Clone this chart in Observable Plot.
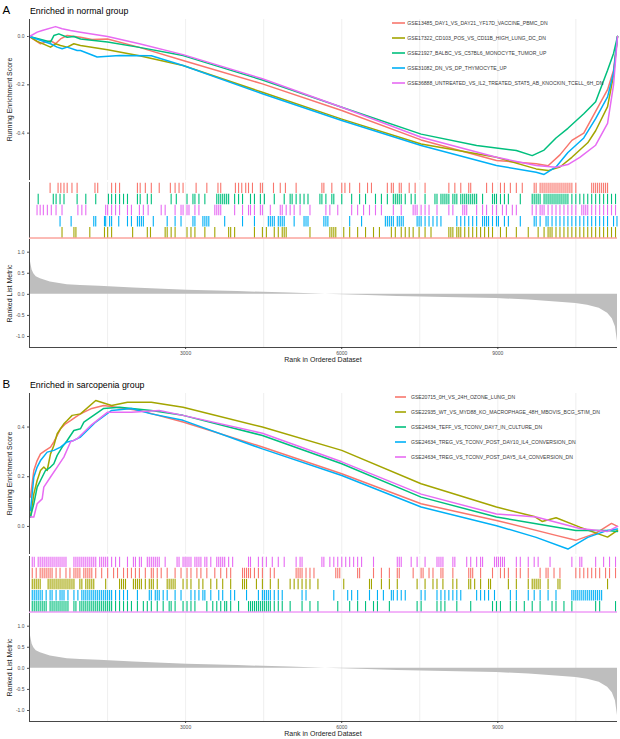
<!DOCTYPE html>
<html><head><meta charset="utf-8">
<script src="https://cdn.jsdelivr.net/npm/d3@7"></script>
<script src="https://cdn.jsdelivr.net/npm/@observablehq/plot@0.6"></script>
<style>
body{margin:0;background:#fff;font-family:"Liberation Sans",Arial,sans-serif;}
#root{position:relative;width:620px;height:739px;overflow:hidden;background:#fff;}
#root svg{position:absolute;left:0;}
</style></head><body><div id="root"></div>
<script>
// ---------- shared scales / ticks ----------
const xDomain = [0, 11300];
const gridTicks = [1500, 3000, 4500, 6000, 7500, 9000, 10500];
const xTicks = [3000, 6000, 9000];
const esTicksA = [-0.4, -0.2, 0.0];
const esTicksB = [0.0, 0.2, 0.4];
const metricTicks = [-1, -0.5, 0, 0.5, 1];
const colors = ["#F8766D", "#A3A500", "#00BF7D", "#00B0F6", "#E76BF3"];

// ---------- panel A ----------
const titleA = "Enriched in normal group";
const namesA = [
  "GSE13485_DAY1_VS_DAY21_YF17D_VACCINE_PBMC_DN",
  "GSE17322_CD103_POS_VS_CD11B_HIGH_LUNG_DC_DN",
  "GSE21927_BALBC_VS_C57BL6_MONOCYTE_TUMOR_UP",
  "GSE31082_DN_VS_DP_THYMOCYTE_UP",
  "GSE36888_UNTREATED_VS_IL2_TREATED_STAT5_AB_KNOCKIN_TCELL_6H_DN"
];
const rugOrderA = [0, 2, 4, 3, 1];
const esA0 = [[0,0],[211,-0.030],[404,-0.017],[500,-0.030],[596,-0.010],[724,0.004],[980,-0.003],[1200,-0.012],[1500,-0.010],[2112,-0.045],[2951,-0.099],[4476,-0.196],[6001,-0.306],[7526,-0.428],[8974,-0.513],[9737,-0.527],[9966,-0.535],[10194,-0.49],[10423,-0.43],[10652,-0.40],[10880,-0.31],[11109,-0.22],[11224,-0.14],[11300,0.0]];
const esA1 = [[0,0],[150,-0.02],[404,-0.044],[500,-0.030],[596,-0.037],[724,-0.044],[852,-0.030],[980,-0.037],[1500,-0.055],[2112,-0.08],[2951,-0.12],[4476,-0.231],[6001,-0.342],[7526,-0.445],[8974,-0.50],[9737,-0.548],[9966,-0.555],[10194,-0.54],[10423,-0.50],[10728,-0.44],[10880,-0.39],[11109,-0.29],[11224,-0.16],[11300,0.0]];
const esA2 = [[0,0],[404,-0.023],[468,0.004],[564,0.011],[724,-0.003],[852,0.0],[980,-0.010],[1500,-0.023],[2112,-0.045],[2951,-0.079],[4476,-0.18],[6001,-0.293],[7526,-0.404],[8593,-0.451],[9356,-0.472],[9661,-0.493],[9889,-0.47],[10118,-0.42],[10347,-0.38],[10652,-0.32],[10880,-0.27],[11109,-0.14],[11224,-0.07],[11300,0.0]];
const esA3 = [[0,0],[404,-0.030],[532,-0.044],[628,-0.051],[724,-0.044],[916,-0.058],[980,-0.058],[1300,-0.085],[1731,-0.079],[2341,-0.08],[2951,-0.12],[4476,-0.237],[6001,-0.348],[7526,-0.451],[8974,-0.534],[9737,-0.562],[9889,-0.571],[10118,-0.54],[10347,-0.48],[10652,-0.42],[10880,-0.34],[11109,-0.25],[11224,-0.15],[11300,0.0]];
const esA4 = [[0,0],[148,0.018],[244,0.025],[500,0.041],[628,0.032],[788,0.025],[980,0.018],[1500,0.0],[2112,-0.03],[2951,-0.075],[4476,-0.175],[6001,-0.293],[7526,-0.417],[8974,-0.50],[9737,-0.534],[10118,-0.541],[10347,-0.53],[10576,-0.50],[10880,-0.45],[11109,-0.36],[11224,-0.2],[11300,0.0]];
const hitsA0 = [396,549,602,663,724,816,915,1258,1311,1578,1654,1731,2074,2127,2226,2341,2493,2707,2798,2874,2951,3202,3408,3622,3675,3957,4018,4079,4155,4209,4285,4437,4476,4689,4819,4918,5124,5619,5657,5810,6001,6062,6153,6344,6496,6572,6877,6954,6992,7106,7144,7297,7411,7602,8059,8174,8288,8441,8479,8784,8898,9051,9127,9241,9356,9470,9699,9737,9813,9851,9889,9927,9966,10004,10042,10080,10118,10156,10194,10232,10271,10309,10347,10385,10423,10499,10804,10842,10880,10918,10957,10995,11033,11071,11109];
const hitsA1 = [625,854,892,1159,1441,1502,1578,1982,2264,2325,2607,2646,2722,2798,3027,3103,3179,3370,3561,3827,3866,3942,4323,4476,4552,4704,4781,4857,4895,4933,5390,5772,5810,5848,5886,6039,6153,6306,6458,6611,6725,6954,7030,7144,7221,7297,7373,7487,7602,7716,8059,8097,8136,8212,8250,8288,8364,8441,8517,8593,8669,8746,8822,8898,9051,9165,9356,9585,9775,9889,9966,10004,10042,10118,10194,10271,10347,10423,10499,10576,10652,10728,10804,10880,10957,11033,11109,11185,11262];
const hitsA2 = [167,457,511,587,663,915,1082,1273,1517,1578,1654,1731,1807,1883,2074,2127,2264,2341,2722,2821,3027,3141,3179,3256,3370,3599,3637,3675,3713,3751,3789,3827,3942,4018,4094,4247,4323,4437,4514,4704,4895,5009,5047,5124,5200,5276,5352,5581,5619,5696,5810,5848,6001,6191,6344,6458,6649,6763,6877,6992,7030,7068,7106,7144,7221,7335,7411,7602,7792,7831,7907,7945,7983,8021,8059,8136,8174,8212,8288,8326,8364,8402,8441,8479,8517,8555,8593,8707,8898,8936,8974,9051,9127,9203,9432,9661,9699,9737,9775,9813,9889,9927,9966,10004,10042,10080,10118,10156,10194,10232,10271,10309,10347,10423,10499,10576,10652,10728,10804,10880,10957,11033,11109,11185,11262];
const hitsA3 = [587,800,1235,1273,1441,1464,1540,1578,1715,1883,1959,2074,2112,2150,2188,2379,2646,2798,2912,3141,3179,3332,3370,3408,3446,3751,4094,4323,4590,4628,4666,4704,4781,4819,4857,4895,5086,5276,5314,5352,5657,5696,5734,6153,6382,6839,6877,6915,6954,6992,7068,7106,7144,7182,7449,7487,7526,7602,7678,7754,7831,7907,8212,8288,8364,8441,8517,8593,8707,8746,8784,8822,8898,8974,9012,9127,9203,9432,9699,9737,9813,9927,9966,10042,10118,10194,10271,10347,10423,10499,10576,10652,10728,10804,10880,10957,11033,11109,11224,11290];
const hitsA4 = [145,205,266,343,419,510,625,930,1006,1082,1464,1502,1578,1654,1731,1883,1959,2112,2188,2280,2531,2607,2798,2912,2951,3027,3065,3179,3256,3561,3599,3637,3675,3942,4094,4209,4247,4323,4437,4476,4628,4819,4857,4933,5009,5086,5200,5390,5696,5772,5924,6191,6306,6420,6534,6649,6763,6992,7144,7373,7411,7449,7526,7602,7678,7831,8059,8136,8326,8364,8402,8593,8707,8784,8898,8974,9089,9165,9279,9356,9661,9737,9813,9851,9889,9966,10042,10118,10194,10271,10347,10423,10499,10614,10652,10690,10728,10804,10880,10957,11033,11109,11185,11262];

// ---------- panel B ----------
const titleB = "Enriched in sarcopenia group";
const namesB = [
  "GSE20715_0H_VS_24H_OZONE_LUNG_DN",
  "GSE22935_WT_VS_MYD88_KO_MACROPHAGE_48H_MBOVIS_BCG_STIM_DN",
  "GSE24634_TEFF_VS_TCONV_DAY7_IN_CULTURE_DN",
  "GSE24634_TREG_VS_TCONV_POST_DAY10_IL4_CONVERSION_DN",
  "GSE24634_TREG_VS_TCONV_POST_DAY5_IL4_CONVERSION_DN"
];
const rugOrderB = [4, 0, 1, 3, 2];
const esB0 = [[19,0.118],[51,0.172],[83,0.225],[147,0.265],[211,0.292],[307,0.306],[404,0.319],[468,0.340],[532,0.366],[596,0.393],[692,0.413],[788,0.426],[884,0.440],[980,0.453],[1197,0.475],[1426,0.487],[2112,0.467],[2951,0.42],[4476,0.32],[6001,0.212],[7526,0.091],[8974,0.024],[10118,-0.036],[10499,-0.056],[10880,-0.028],[11185,0.012],[11300,0.0]];
const esB1 = [[19,0.038],[83,0.131],[147,0.185],[211,0.225],[275,0.239],[340,0.225],[404,0.292],[468,0.326],[532,0.373],[596,0.393],[660,0.413],[724,0.426],[820,0.447],[980,0.453],[1273,0.507],[1578,0.487],[1883,0.50],[2341,0.50],[2951,0.48],[4476,0.40],[6001,0.306],[7526,0.172],[8974,0.078],[9700,0.04],[9850,0.02],[10120,0.035],[10576,-0.003],[11109,-0.043],[11300,-0.016]];
const esB2 = [[19,0.038],[83,0.091],[147,0.158],[211,0.185],[307,0.225],[404,0.239],[468,0.252],[532,0.286],[628,0.319],[724,0.346],[852,0.386],[980,0.393],[1045,0.42],[1426,0.475],[1731,0.48],[2341,0.467],[2951,0.447],[4476,0.366],[6001,0.252],[7526,0.118],[8974,0.038],[9737,0.011],[10499,-0.016],[11109,-0.016],[11300,-0.02]];
const esB3 = [[19,0.064],[51,0.131],[83,0.199],[147,0.239],[211,0.265],[340,0.299],[468,0.306],[596,0.319],[724,0.340],[852,0.346],[980,0.360],[1273,0.42],[1578,0.467],[1959,0.475],[2341,0.453],[2951,0.427],[4476,0.312],[6001,0.205],[7526,0.078],[8974,0.003],[9737,-0.044],[10347,-0.091],[10728,-0.044],[11109,-0.016],[11300,-0.01]];
const esB4 = [[19,0.038],[83,0.038],[147,0.091],[244,0.111],[275,0.158],[404,0.199],[532,0.239],[660,0.279],[788,0.340],[916,0.353],[980,0.366],[1197,0.41],[1502,0.46],[1959,0.46],[2493,0.467],[2951,0.447],[4476,0.375],[6001,0.26],[7526,0.13],[8974,0.05],[9737,0.038],[10576,-0.008],[11109,-0.02],[11300,0.0]];
const hitsB0 = [53,129,205,244,282,320,358,396,434,511,587,701,777,854,892,930,968,1044,1082,1121,1159,1197,1273,1387,1502,1616,1692,1807,1883,1959,2036,2112,2226,2341,2379,2455,2531,2646,2798,2912,3027,3103,3217,3294,3408,3561,3675,3789,3866,4094,4132,4171,4209,4247,4323,4399,4476,4628,4704,5124,5162,5200,5238,5314,5390,5467,5886,5924,5962,6306,6344,6611,6763,6916,7068,7106,7373,7526,7564,7678,7754,7907,7945,8136,8441,8479,8517,8669,8898,9051,9127,9203,9356,9432,9585,9813,9927,9966,10080,10194,10499,10576,10652,10728,10804,10880,10957,11071,11147,11262];
const hitsB1 = [53,91,129,167,205,358,396,434,472,511,549,587,625,663,701,739,777,816,854,968,1006,1082,1121,1159,1197,1235,1464,1731,1769,1807,1845,1997,2036,2074,2112,2150,2226,2302,2341,2379,2455,2646,2684,2722,2760,2798,2951,3027,3103,3256,3332,3484,3599,3713,3866,4094,4132,4171,4361,4476,4628,4781,5009,5086,5162,5238,5314,5390,5543,6039,6534,6572,6763,6916,7068,7449,7602,7754,7831,7945,8136,8212,8441,8479,8555,8669,8822,8860,9203,9356,9585,9661,9699,9737,9775,9813,9966,10156,10194,11109];
const hitsB2 = [53,91,129,167,205,244,282,320,396,434,472,511,549,587,625,663,701,739,854,892,968,1006,1044,1082,1121,1159,1197,1235,1273,1311,1349,1387,1426,1464,1502,1540,1578,1654,1731,1807,1883,1959,2074,2188,2264,2341,2455,2569,2684,2722,2798,2951,3027,3103,3179,3408,3522,3599,3675,3751,3789,3866,4018,4209,4247,4285,4323,4361,4399,4437,4476,4514,4552,4590,4628,4704,4781,4857,5009,5238,5390,5543,5924,6153,6306,6458,6611,6687,6916,7449,7526,7831,7907,7983,8212,8479,8898,8974,9051,9241,9356,9509,9661,9813,10042,10118,10271,10423,10880,10957,11262];
const hitsB3 = [53,91,129,167,205,244,320,396,434,511,587,625,663,739,854,930,1006,1044,1082,1121,1159,1197,1235,1273,1311,1349,1387,1426,1464,1502,1540,1578,1654,1731,1807,1883,2074,2302,2341,2417,2455,2493,2569,2646,2798,2912,3103,3179,3256,3332,3370,3484,3637,3713,3866,3942,4171,4399,4476,4514,4552,4590,4628,4704,4781,4857,5238,5314,5848,6115,6191,6306,6534,6687,6801,6954,6992,7068,7144,7221,7526,7602,7831,7907,7983,8059,8136,8212,8288,8593,8669,8746,8822,8936,9241,9356,9585,9699,9813,9966,10118,10423,10461,10499,10537,10576,10614,10652,10690,10728,10766,10804,10842,10880,10918,10957,10995];
const hitsB4 = [53,91,167,205,244,282,320,358,396,434,472,511,549,587,625,663,701,854,892,930,968,1006,1044,1082,1121,1159,1197,1235,1273,1349,1387,1426,1464,1502,1578,1654,1731,1883,1997,2036,2112,2150,2264,2302,2341,2379,2417,2455,2493,2607,2836,2874,2951,2989,3027,3065,3103,3179,3217,3256,3294,3370,3408,3484,3599,3637,3675,3713,3751,3827,3904,4209,4247,4399,4476,4552,4666,4781,4895,5124,5200,5238,5619,5657,5772,5848,5924,6001,6077,6153,6229,6306,6382,6611,7068,7106,7144,7335,7449,7602,7831,7869,7907,7945,8136,8174,8402,8479,8593,8669,8707,8936,8974,9012,9051,9089,9127,9356,9432,9585,9699,9775,10004,10423,10576,10614,10880,11033,11147,11262];

// ---------- ranked list metric (same ordered dataset for both panels) ----------
const metric = [[0,0.95],[10,0.85],[25,0.73],[50,0.58],[83,0.49],[130,0.42],[210,0.37],[400,0.29],[725,0.23],[980,0.21],[1346,0.19],[2000,0.15],[3027,0.10],[4000,0.065],[5000,0.03],[5690,0.0],[6500,-0.025],[7070,-0.05],[8000,-0.075],[8975,-0.10],[9600,-0.135],[10120,-0.18],[10500,-0.22],[10725,-0.26],[10950,-0.33],[11110,-0.45],[11200,-0.58],[11260,-0.77],[11300,-1.12]];

// ---------- drawing ----------
const root = document.getElementById("root");
const FONT = "'Liberation Sans', Arial, Helvetica, sans-serif";
const fmt1 = d => d.toFixed(1);
const baseStyle = {fontFamily: FONT, fontSize: "5px", color: "#4d4d4d", background: "transparent", overflow: "visible"};
const axisColor = "#333333";

function place(el, top) { el.style.top = top + "px"; root.appendChild(el); }

function esPlot(series, yDomain, yTicks) {
  const data = series.flatMap((s, i) => s.map(([r, v]) => ({rank: r, es: v, set: i})));
  return Plot.plot({
    width: 620, height: 161, marginLeft: 29, marginRight: 3, marginTop: 0, marginBottom: 0,
    style: baseStyle,
    x: {domain: xDomain, axis: null},
    y: {domain: yDomain, ticks: yTicks, tickSize: 2, tickPadding: 3, tickFormat: fmt1, label: null},
    marks: [
      Plot.ruleX(gridTicks, {stroke: "#ebebeb", strokeWidth: 0.8}),
      Plot.line(data, {x: "rank", y: "es", z: "set", stroke: d => colors[d.set], strokeWidth: 1.5}),
      Plot.ruleX([xDomain[0]], {stroke: axisColor, strokeWidth: 0.9})
    ]
  });
}

function rugPlot(hitsList, order, baseColor) {
  const data = [];
  order.forEach((si, r) => hitsList[si].forEach(h => data.push({rank: h, row: order.length - 1 - r, c: colors[si]})));
  return Plot.plot({
    width: 620, height: 59, marginLeft: 29, marginRight: 3, marginTop: 2, marginBottom: 1.5,
    style: baseStyle,
    x: {domain: xDomain, axis: null},
    y: {domain: [0, order.length], axis: null},
    color: {type: "identity"},
    marks: [
      Plot.ruleX(gridTicks, {stroke: "#ebebeb", strokeWidth: 0.8}),
      Plot.ruleX(data, {x: "rank", y1: "row", y2: d => d.row + 0.94, stroke: "c", strokeWidth: 1.1}),
      Plot.ruleY([0], {stroke: baseColor, strokeWidth: 1}),
      Plot.ruleX([xDomain[0]], {stroke: axisColor, strokeWidth: 0.9})
    ]
  });
}

function metricPlot() {
  const mDomain = [-1.261, 1.301];
  return Plot.plot({
    width: 620, height: 128, marginLeft: 29, marginRight: 3, marginTop: 0, marginBottom: 20,
    style: baseStyle,
    x: {domain: xDomain, ticks: xTicks, tickSize: 2, tickPadding: 2, tickFormat: d => String(d), label: null},
    y: {domain: mDomain, ticks: metricTicks, tickSize: 2, tickPadding: 3, tickFormat: fmt1, label: null},
    marks: [
      Plot.ruleX(gridTicks, {stroke: "#ebebeb", strokeWidth: 0.8}),
      Plot.areaY(metric, {x: d => d[0], y: d => d[1], fill: "#bebebe"}),
      Plot.ruleX([xDomain[0]], {stroke: axisColor, strokeWidth: 0.9}),
      Plot.ruleY([mDomain[0]], {stroke: axisColor, strokeWidth: 0.9})
    ]
  });
}

const panels = [
  {oy: 0, letter: "A", title: titleA, names: namesA, es: [esA0, esA1, esA2, esA3, esA4], yDomain: [-0.596, 0.0704], yTicks: esTicksA,
   hits: [hitsA0, hitsA1, hitsA2, hitsA3, hitsA4], order: rugOrderA, base: colors[0], legX: 392, legW: 13, legTextX: 407.3},
  {oy: 374, letter: "B", title: titleB, names: namesB, es: [esB0, esB1, esB2, esB3, esB4], yDomain: [-0.113, 0.535], yTicks: esTicksB,
   hits: [hitsB0, hitsB1, hitsB2, hitsB3, hitsB4], order: rugOrderB, base: colors[4], legX: 395, legW: 11, legTextX: 411}
];

let overlay = "";
for (const p of panels) {
  place(esPlot(p.es, p.yDomain, p.yTicks), 19 + p.oy);
  place(rugPlot(p.hits, p.order, p.base), 180 + p.oy);
  place(metricPlot(), 239 + p.oy);
  const o = p.oy;
  overlay += `<text x="2.5" y="${14 + o}" font-size="11.5" fill="#000">${p.letter}</text>`;
  overlay += `<text x="30" y="${14 + o}" font-size="8.8" fill="#000">${p.title}</text>`;
  overlay += `<text transform="translate(12.4,${99.5 + o}) rotate(-90)" text-anchor="middle" font-size="7" fill="#1a1a1a">Running Enrichment Score</text>`;
  overlay += `<text transform="translate(12.4,${293.5 + o}) rotate(-90)" text-anchor="middle" font-size="7" fill="#1a1a1a">Ranked List Metric</text>`;
  overlay += `<text x="323" y="${362 + o}" text-anchor="middle" font-size="7" fill="#1a1a1a">Rank in Ordered Dataset</text>`;
  p.names.forEach((n, i) => {
    const cy = 23 + o + 15 * i;
    overlay += `<line x1="${p.legX}" x2="${p.legX + p.legW}" y1="${cy}" y2="${cy}" stroke="${colors[i]}" stroke-width="1.6"/>`;
    overlay += `<text x="${p.legTextX}" y="${cy + 1.8}" font-size="5.1" fill="#3a3a3a">${n}</text>`;
  });
}
const ov = document.createElementNS("http://www.w3.org/2000/svg", "svg");
ov.setAttribute("width", 620); ov.setAttribute("height", 739);
ov.style.top = "0px"; ov.style.zIndex = 10; ov.style.pointerEvents = "none";
ov.style.fontFamily = FONT;
ov.innerHTML = overlay;
root.appendChild(ov);
</script></body></html>
